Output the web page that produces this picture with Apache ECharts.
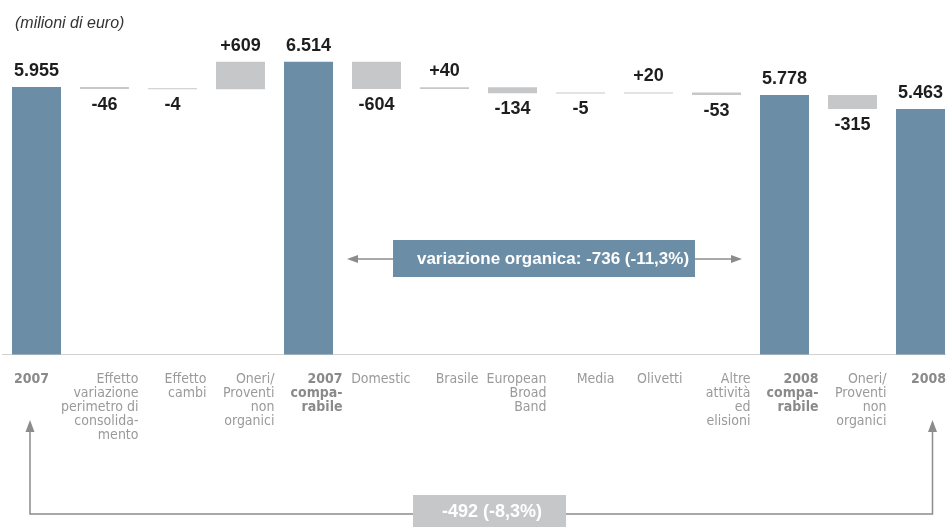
<!DOCTYPE html>
<html>
<head>
<meta charset="utf-8">
<title>Ricavi consolidati 2007-2008</title>
<script src="https://cdn.jsdelivr.net/npm/echarts@6/dist/echarts.min.js"></script>
<style>
  html, body { margin: 0; padding: 0; background: #ffffff; }
  #chart { width: 946px; height: 527px; }
</style>
</head>
<body>
<div id="chart"></div>
<script>
// Waterfall data (milioni di euro)
const categories = [
  '2007',
  'Effetto\nvariazione\nperimetro di\nconsolida-\nmento',
  'Effetto\ncambi',
  'Oneri/\nProventi\nnon\norganici',
  '2007\ncompa-\nrabile',
  'Domestic',
  'Brasile',
  'European\nBroad\nBand',
  'Media',
  'Olivetti',
  'Altre\nattività\ned\nelisioni',
  '2008\ncompa-\nrabile',
  'Oneri/\nProventi\nnon\norganici',
  '2008'
];
const values = [5955, -46, -4, 609, 6514, -604, 40, -134, -5, 20, -53, 5778, -315, 5463];
const isTotal = [true, false, false, false, true, false, false, false, false, false, false, true, false, true];

const BLUE = '#6b8ea6';
const GREY = '#c6c7c8';
const LABEL_FONT = "'Liberation Sans', Arial, sans-serif";
const AXIS_FONT = "'Liberation Sans Narrow', 'DejaVu Sans Condensed', sans-serif";

function fmtThousands(v) {
  return String(Math.abs(v)).replace(/\B(?=(\d{3})+(?!\d))/g, '.');
}
function fmtValue(v, total) {
  if (total) return fmtThousands(v);
  return (v > 0 ? '+' : '-') + fmtThousands(v);
}
function fmtPct(delta, ref) {
  const p = delta / ref * 100;
  return (p > 0 ? '+' : '') + p.toFixed(1).replace('.', ',') + '%';
}

// Invisible base + visible step for every category
const baseData = [];
const stepData = [];
let running = 0;
values.forEach(function (v, i) {
  if (isTotal[i]) {
    running = v;
    baseData.push(0);
    stepData.push({ value: v, itemStyle: { color: BLUE }, label: { position: 'top', distance: 7 } });
  } else {
    baseData.push(v < 0 ? running + v : running);
    stepData.push({
      value: Math.abs(v),
      itemStyle: { color: GREY },
      label: { position: v < 0 ? 'bottom' : 'top', distance: v < 0 ? 7 : 7 }
    });
    running += v;
  }
});

// Category labels sit right-aligned on the band edges of a second axis
const boldIdx = { 0: true, 4: true, 11: true, 13: true };
const edgeLabels = [''].concat(categories.map(function (c, i) {
  const lines = c.split('\n');
  let tag = boldIdx[i] ? 'b' : 'n';
  if (i === 0) tag = 'first';
  if (i === categories.length - 1) tag = 'last';
  return lines.map(function (l) { return '{' + tag + '|' + l + '}'; }).join('\n');
}));

const organic = values[11] - values[4];
const overall = values[13] - values[0];

const chart = echarts.init(document.getElementById('chart'), null, { renderer: 'canvas' });

chart.setOption({
  animation: false,
  backgroundColor: '#ffffff',
  title: {
    text: '(milioni di euro)',
    left: 10,
    top: 11,
    textStyle: { fontFamily: LABEL_FONT, fontSize: 16, fontStyle: 'italic', fontWeight: 'normal', color: '#333333' }
  },
  grid: { left: 2.5, top: 40, width: 952, height: 314.5, outerBoundsMode: 'none', containLabel: false },
  xAxis: [
    {
      type: 'category',
      data: categories,
      boundaryGap: true,
      axisLine: { show: true, lineStyle: { color: '#d2d2d2', width: 1 } },
      axisTick: { show: false },
      axisLabel: { show: false },
      splitLine: { show: false }
    },
    {
      type: 'category',
      data: edgeLabels,
      position: 'bottom',
      boundaryGap: false,
      axisLine: { show: false },
      axisTick: { show: false },
      splitLine: { show: false },
      axisLabel: {
        interval: 0,
        align: 'right',
        verticalAlign: 'top',
        margin: 18,
        fontFamily: AXIS_FONT,
        fontSize: 14,
        lineHeight: 14,
        color: '#9a9a9a',
        rich: {
          n: { fontFamily: AXIS_FONT, fontSize: 14, lineHeight: 14, color: '#9a9a9a' },
          b: { fontFamily: AXIS_FONT, fontSize: 14, lineHeight: 14, color: '#8a8a8a', fontWeight: 'bold' },
          first: { fontFamily: AXIS_FONT, fontSize: 14, lineHeight: 14, color: '#8a8a8a', fontWeight: 'bold', padding: [0, 21.5, 0, 0] },
          last: { fontFamily: AXIS_FONT, fontSize: 14, lineHeight: 14, color: '#8a8a8a', fontWeight: 'bold', padding: [0, 8.5, 0, 0] }
        }
      }
    }
  ],
  yAxis: { type: 'value', min: 0, max: 7000, show: false },
  series: [
    {
      name: 'base',
      type: 'bar',
      stack: 'cascata',
      xAxisIndex: 0,
      barWidth: 49,
      data: baseData,
      itemStyle: { color: 'rgba(0,0,0,0)' },
      emphasis: { disabled: true },
      silent: true
    },
    {
      name: 'variazione',
      type: 'bar',
      stack: 'cascata',
      xAxisIndex: 0,
      barWidth: 49,
      barMinHeight: 1,
      data: stepData,
      label: {
        show: true,
        fontFamily: LABEL_FONT,
        fontSize: 18,
        fontWeight: 'bold',
        color: '#1e1e1e',
        formatter: function (p) { return fmtValue(values[p.dataIndex], isTotal[p.dataIndex]); }
      },
      emphasis: { disabled: true }
    }
  ],
  graphic: [
    // organic change arrow between the two comparable totals
    { type: 'line', shape: { x1: 352, y1: 259, x2: 737, y2: 259 }, style: { stroke: '#8c8c8c', lineWidth: 1.5 }, z: 10 },
    { type: 'polygon', shape: { points: [[347, 259], [358, 255], [358, 263]] }, style: { fill: '#8c8c8c' }, z: 10 },
    { type: 'polygon', shape: { points: [[742, 259], [731, 255], [731, 263]] }, style: { fill: '#8c8c8c' }, z: 10 },
    { type: 'rect', shape: { x: 393, y: 240, width: 302, height: 37 }, style: { fill: BLUE }, z: 11 },
    {
      type: 'text', x: 553, y: 259, z: 12,
      style: {
        text: 'variazione organica: ' + fmtValue(organic, false) + ' (' + fmtPct(organic, values[4]) + ')',
        fill: '#ffffff', font: "bold 17px 'Liberation Sans', Arial, sans-serif",
        textAlign: 'center', textVerticalAlign: 'middle'
      }
    },
    // overall change bracket 2007 -> 2008
    { type: 'polyline', shape: { points: [[30, 430], [30, 514], [932.5, 514], [932.5, 430]] }, style: { stroke: '#8c8c8c', lineWidth: 1.5, fill: null }, z: 10 },
    { type: 'polygon', shape: { points: [[30, 420], [25.5, 432], [34.5, 432]] }, style: { fill: '#8c8c8c' }, z: 10 },
    { type: 'polygon', shape: { points: [[932.5, 420], [928, 432], [937, 432]] }, style: { fill: '#8c8c8c' }, z: 10 },
    { type: 'rect', shape: { x: 413, y: 495, width: 153, height: 32 }, style: { fill: GREY }, z: 11 },
    {
      type: 'text', x: 492, y: 512, z: 12,
      style: {
        text: fmtValue(overall, false) + ' (' + fmtPct(overall, values[0]) + ')',
        fill: '#ffffff', font: "bold 18px 'Liberation Sans', Arial, sans-serif",
        textAlign: 'center', textVerticalAlign: 'middle'
      }
    }
  ]
});
</script>
</body>
</html>
